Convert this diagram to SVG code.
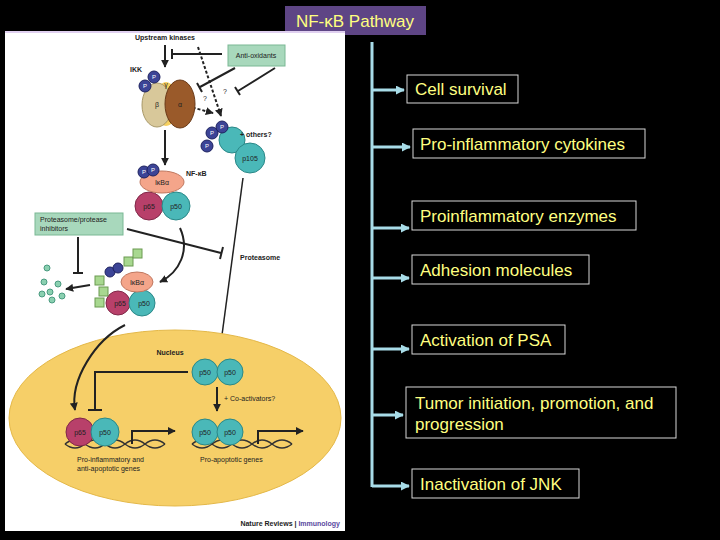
<svg xmlns="http://www.w3.org/2000/svg" width="720" height="540" viewBox="0 0 720 540">
<defs>
<style>
.bt{font-family:"Liberation Sans",Arial,sans-serif;font-size:17px;fill:#ffff80}
.bx{fill:none;stroke:#d8d8d8;stroke-width:1}
.br{stroke:#a8dce8;stroke-width:3;fill:none}
.ft{font-family:"Liberation Sans",Arial,sans-serif;font-size:7px;fill:#222}
.fb{font-family:"Liberation Sans",Arial,sans-serif;font-size:7px;font-weight:bold;fill:#222}
.ln{stroke:#222;stroke-width:2;fill:none}
.ds{stroke:#222;stroke-width:2;fill:none;stroke-dasharray:3,2}
.gb{fill:#a8d8bc;stroke:#7ab894}
.p{fill:#3c4496;stroke:#1e2260}
.pt{font-family:"Liberation Sans",Arial,sans-serif;font-size:6px;fill:#fff;text-anchor:middle}
.tl{fill:#4ab8b8;stroke:#2a8888}
.mr{fill:#b8406a;stroke:#802848}
.ub{fill:#a8d890;stroke:#6a9a50}
</style>
<marker id="ba" viewBox="0 0 10 10" refX="9" refY="5" markerWidth="3" markerHeight="3" orient="auto"><path d="M0,0L10,5L0,10z" fill="#a8dce8"/></marker>
<marker id="ka" viewBox="0 0 10 10" refX="9" refY="5" markerWidth="4" markerHeight="4" orient="auto"><path d="M0,0L10,5L0,10z" fill="#222"/></marker>
</defs>
<rect width="720" height="540" fill="#000"/>
<g id="title"><rect x="285" y="6" width="141" height="29" fill="#5e4585"/><text x="355" y="27" class="bt" text-anchor="middle" style="font-size:17px">NF-κB Pathway</text></g>
<g id="figure">
<rect x="5" y="31" width="340" height="500" fill="#fff"/>
<rect x="5" y="31" width="340" height="2" fill="#e0d0f0"/>
<text x="165" y="40" class="fb" text-anchor="middle">Upstream kinases</text>
<path class="ln" d="M165,45V67" marker-end="url(#ka)"/>
<path class="ln" d="M222,54H172M172,49V59"/>
<rect x="228" y="45" width="57" height="21" class="gb"/><text x="256" y="58" class="ft" text-anchor="middle">Anti-oxidants</text>
<path class="ds" d="M198,47L221,116" marker-end="url(#ka)"/>
<path class="ds" d="M183,105L213,113" marker-end="url(#ka)"/>
<path class="ln" d="M235,68L200,87M197,83L202,92"/>
<path class="ln" d="M275,68L238,91M235,87L240,95"/>
<text x="203" y="101" class="ft">?</text><text x="223" y="94" class="ft">?</text>
<text x="130" y="72" class="fb">IKK</text>
<ellipse cx="166" cy="104" rx="12" ry="22" fill="#f6d060"/>
<ellipse cx="157" cy="105" rx="15" ry="22" fill="#d8c89a" stroke="#a89868"/>
<ellipse cx="180" cy="104" rx="15" ry="24" fill="#9a5a2a" stroke="#6a3a18"/>
<text x="157" y="107" class="ft" text-anchor="middle">β</text><text x="180" y="107" class="ft" text-anchor="middle" fill="#fff">α</text><text x="166" y="87" class="ft" text-anchor="middle">γ</text>
<circle cx="145" cy="86" r="6" class="p"/><circle cx="154" cy="77" r="6" class="p"/>
<text x="145" y="88" class="pt">P</text><text x="154" y="79" class="pt">P</text>
<path class="ln" d="M165,130V165" marker-end="url(#ka)"/>
<circle cx="232" cy="140" r="13" class="tl"/><circle cx="250" cy="158" r="15" class="tl"/>
<circle cx="212" cy="133" r="6" class="p"/><circle cx="222" cy="127" r="6" class="p"/><circle cx="207" cy="146" r="6" class="p"/>
<text x="212" y="135" class="pt">P</text><text x="222" y="129" class="pt">P</text><text x="207" y="148" class="pt">P</text>
<text x="240" y="137" class="fb">+ others?</text><text x="250" y="161" class="ft" text-anchor="middle">p105</text>
<circle cx="149" cy="206" r="14" class="mr"/><circle cx="176" cy="206" r="14" class="tl"/>
<ellipse cx="162" cy="182" rx="22" ry="11" fill="#f4a58a" stroke="#c07860"/>
<circle cx="144" cy="172" r="6" class="p"/><circle cx="153" cy="170" r="6" class="p"/>
<text x="144" y="174" class="pt">P</text><text x="153" y="172" class="pt">P</text>
<text x="162" y="185" class="ft" text-anchor="middle">IκBα</text><text x="149" y="209" class="ft" text-anchor="middle">p65</text><text x="176" y="209" class="ft" text-anchor="middle">p50</text>
<text x="186" y="176" class="fb">NF-κB</text>
<rect x="35" y="213" width="88" height="22" class="gb"/><text x="40" y="222" class="ft">Proteasome/protease</text><text x="40" y="231" class="ft">inhibitors</text>
<path class="ln" d="M127,229L221,253M223,247L220,259"/>
<text x="240" y="260" class="fb">Proteasome</text>
<path class="ln" d="M243,178L220,350" style="stroke-width:1.5"/>
<path class="ln" d="M180,228C190,250 180,272 160,282" marker-end="url(#ka)"/>
<path class="ln" d="M78,237V273M73,273H83"/>
<path class="ln" d="M90,285L66,289" marker-end="url(#ka)"/>
<g fill="#8ad0b0" stroke="#4a9a80"><circle cx="47" cy="268" r="3"/><circle cx="44" cy="282" r="3"/><circle cx="58" cy="284" r="3"/><circle cx="50" cy="292" r="3"/><circle cx="62" cy="296" r="3"/><circle cx="52" cy="300" r="3"/><circle cx="42" cy="294" r="3"/></g>
<circle cx="118" cy="303" r="12" class="mr"/><circle cx="142" cy="303" r="13" class="tl"/>
<ellipse cx="137" cy="282" rx="16" ry="10" fill="#f4a58a" stroke="#c07860"/>
<circle cx="110" cy="272" r="5" class="p"/><circle cx="118" cy="268" r="5" class="p"/>
<g class="ub"><rect x="124" y="257" width="9" height="9"/><rect x="133" y="249" width="9" height="9"/><rect x="95" y="276" width="9" height="9"/><rect x="99" y="287" width="9" height="9"/><rect x="95" y="298" width="9" height="9"/></g>
<text x="137" y="285" class="ft" text-anchor="middle">IκBα</text><text x="120" y="306" class="ft" text-anchor="middle">p65</text><text x="144" y="306" class="ft" text-anchor="middle">p50</text>
<ellipse cx="175" cy="418" rx="166" ry="88" fill="#f6cf68" stroke="#e4b848"/>
<path class="ln" d="M125,325C95,340 70,380 75,410" marker-end="url(#ka)"/>
<text x="170" y="355" class="fb" text-anchor="middle">Nucleus</text>
<circle cx="205" cy="372" r="13" class="tl"/><circle cx="230" cy="372" r="13" class="tl"/>
<text x="205" y="375" class="ft" text-anchor="middle">p50</text><text x="230" y="375" class="ft" text-anchor="middle">p50</text>
<path class="ln" d="M188,372H95V410M88,410H102"/>
<path class="ln" d="M217,387V411" marker-end="url(#ka)"/>
<text x="224" y="401" class="ft">+ Co-activators?</text>
<g stroke="#333" stroke-width="1.5" fill="none"><path d="M65,444q10,-8 20,0t20,0t20,0t20,0t20,0"/><path d="M65,444q10,8 20,0t20,0t20,0t20,0t20,0"/><path d="M192,444q10,-8 20,0t20,0t20,0t20,0t20,0"/><path d="M192,444q10,8 20,0t20,0t20,0t20,0t20,0"/></g>
<circle cx="80" cy="432" r="14" class="mr"/><circle cx="105" cy="432" r="14" class="tl"/>
<text x="80" y="435" class="ft" text-anchor="middle">p65</text><text x="105" y="435" class="ft" text-anchor="middle">p50</text>
<circle cx="205" cy="432" r="13" class="tl"/><circle cx="230" cy="432" r="13" class="tl"/>
<text x="205" y="435" class="ft" text-anchor="middle">p50</text><text x="230" y="435" class="ft" text-anchor="middle">p50</text>
<path class="ln" d="M132,444V431H175" marker-end="url(#ka)"/>
<path class="ln" d="M258,444V431H303" marker-end="url(#ka)"/>
<text x="77" y="462" class="ft">Pro-inflammatory and</text><text x="77" y="471" class="ft">anti-apoptotic genes</text>
<text x="200" y="462" class="ft">Pro-apoptotic genes</text>
<text x="340" y="526" class="fb" text-anchor="end">Nature Reviews | <tspan fill="#5a4aa0">Immunology</tspan></text>
</g>
<g id="connectors">
<path class="br" d="M372,42V487"/>
<path class="br" d="M372,90H404" marker-end="url(#ba)"/>
<path class="br" d="M372,147H410" marker-end="url(#ba)"/>
<path class="br" d="M372,228H409" marker-end="url(#ba)"/>
<path class="br" d="M372,278H409" marker-end="url(#ba)"/>
<path class="br" d="M372,349H409" marker-end="url(#ba)"/>
<path class="br" d="M372,415H403" marker-end="url(#ba)"/>
<path class="br" d="M372,486H409" marker-end="url(#ba)"/>
</g>
<g id="n1"><rect x="407" y="75" width="111" height="28" class="bx"/><text x="415" y="95" class="bt">Cell survival</text></g>
<g id="n2"><rect x="413" y="129" width="232" height="29" class="bx"/><text x="420" y="150" class="bt">Pro-inflammatory cytokines</text></g>
<g id="n3"><rect x="412" y="201" width="224" height="29" class="bx"/><text x="420" y="222" class="bt">Proinflammatory enzymes</text></g>
<g id="n4"><rect x="412" y="255" width="177" height="29" class="bx"/><text x="420" y="276" class="bt">Adhesion molecules</text></g>
<g id="n5"><rect x="412" y="325" width="153" height="29" class="bx"/><text x="420" y="346" class="bt">Activation of PSA</text></g>
<g id="n6"><rect x="406" y="387" width="270" height="51" class="bx"/><text x="415" y="409" class="bt">Tumor initiation, promotion, and</text><text x="415" y="430" class="bt">progression</text></g>
<g id="n7"><rect x="412" y="469" width="167" height="29" class="bx"/><text x="420" y="490" class="bt">Inactivation of JNK</text></g>
</svg>
